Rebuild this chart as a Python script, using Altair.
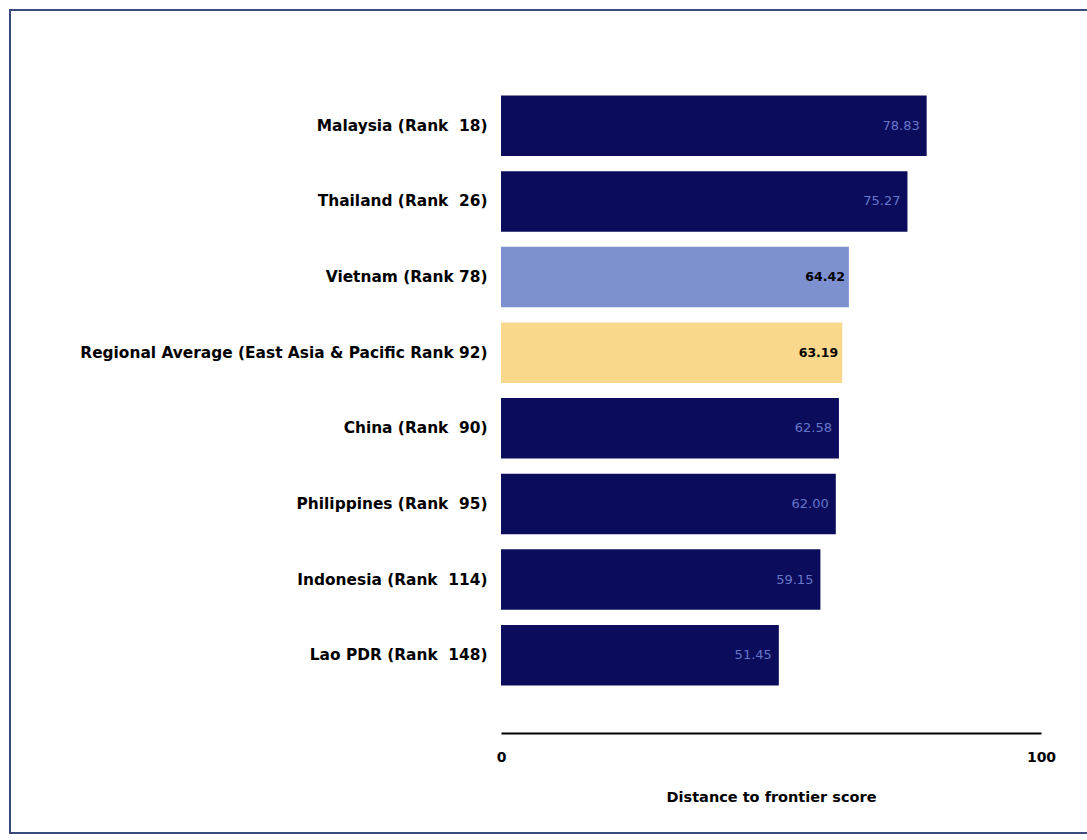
import altair as alt
import pandas as pd

countries = [
    "Malaysia (Rank\u00a0 18)",
    "Thailand (Rank\u00a0 26)",
    "Vietnam (Rank 78)",
    "Regional Average (East Asia & Pacific Rank 92)",
    "China (Rank\u00a0 90)",
    "Philippines (Rank\u00a0 95)",
    "Indonesia (Rank\u00a0 114)",
    "Lao PDR (Rank\u00a0 148)",
]
scores = [78.83, 75.27, 64.42, 63.19, 62.58, 62.00, 59.15, 51.45]
kinds = ["country", "country", "focus", "average", "country", "country", "country", "country"]
value_labels = ["78.83", "75.27", "64.42", "63.19", "62.58", "62.00", "59.15", "51.45"]

df = pd.DataFrame({"country": countries, "score": scores, "kind": kinds, "label": value_labels})

FONT = "DejaVu Sans"

y_enc = alt.Y(
    "country:N",
    sort=countries,
    title=None,
    scale=alt.Scale(paddingInner=0.2, paddingOuter=0.1),
    axis=alt.Axis(
        domain=False, ticks=False, labelFont=FONT, labelFontWeight="bold",
        labelFontSize=15.4, labelColor="#000000", labelPadding=14, labelLimit=600,
    ),
)
x_enc = alt.X(
    "score:Q",
    title="Distance to frontier score",
    scale=alt.Scale(domain=[0, 100], nice=False),
    axis=alt.Axis(
        values=[0, 100], offset=40, ticks=False, grid=False, labelFlush=False,
        domainColor="#000000", domainWidth=2,
        labelFont=FONT, labelFontWeight="bold", labelFontSize=14,
        labelColor="#000000", labelPadding=17,
        titleFont=FONT, titleFontWeight="bold", titleFontSize=14.5,
        titleColor="#000000", titlePadding=26,
    ),
)

bars = alt.Chart(df).mark_bar().encode(
    y=y_enc,
    x=x_enc,
    color=alt.Color(
        "kind:N",
        scale=alt.Scale(domain=["country", "focus", "average"],
                        range=["#0c0c5c", "#7d90cf", "#f9d88c"]),
        legend=None,
    ),
)

txt_light = alt.Chart(df).transform_filter("datum.kind == 'country'").mark_text(
    align="right", baseline="middle", dx=-7, font=FONT, fontSize=13, color="#6676c8"
).encode(y=alt.Y("country:N", sort=countries), x="score:Q", text="label:N")

txt_bold = alt.Chart(df).transform_filter("datum.kind != 'country'").mark_text(
    align="right", baseline="middle", dx=-4, font=FONT, fontSize=12.5,
    fontWeight="bold", color="#000000"
).encode(y=alt.Y("country:N", sort=countries), x="score:Q", text="label:N")

frame = alt.Chart(pd.DataFrame({"f": [0]})).mark_rect(
    fill=None, stroke="#3b4a7e", strokeWidth=2
).encode(
    x=alt.value(-491), x2=alt.value(620),
    y=alt.value(-78), y2=alt.value(745),
)

chart = alt.layer(frame, bars, txt_light, txt_bold).properties(
    width=540, height=605,
    autosize=alt.AutoSizeParams(type="none"),
    padding={"left": 501, "top": 88, "right": 46, "bottom": 147},
    background="#ffffff",
).configure_view(stroke=None)

chart.save("out.html", embed_options={"renderer": "svg", "actions": False})
